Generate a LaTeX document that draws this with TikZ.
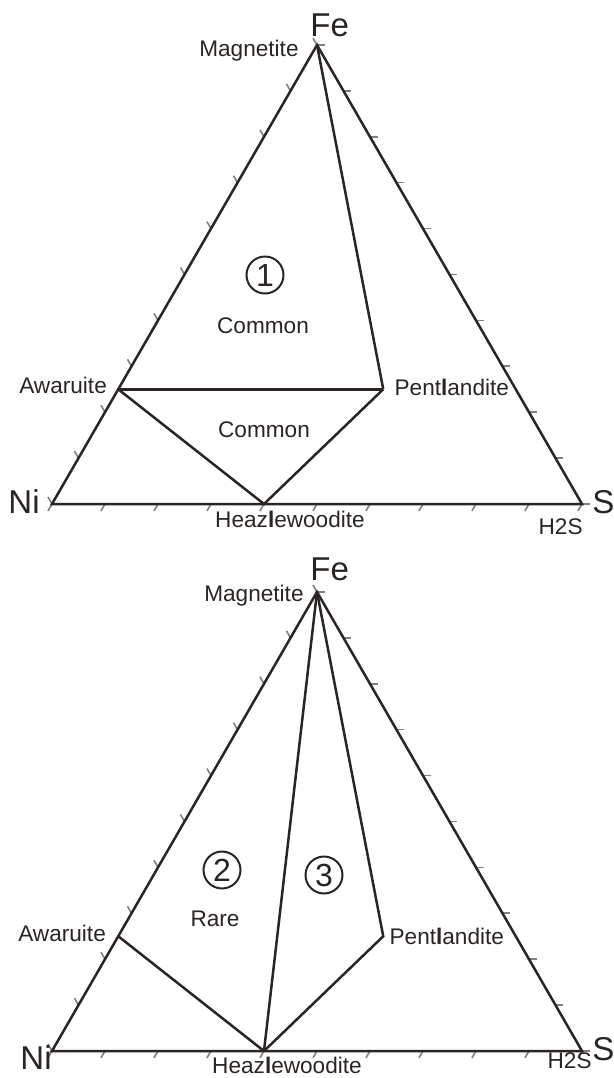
\documentclass[tikz,border=0pt]{standalone}
\usepackage{fontspec}
\setmainfont{Liberation Sans}
\usetikzlibrary{positioning}
\definecolor{ink}{HTML}{2A2522}
\definecolor{tickgray}{HTML}{808080}
\tikzset{
  edge/.style={draw=ink,line width=1.25pt,line join=miter},
  tie/.style={draw=ink,line width=1.25pt},
  tickmark/.style={draw=tickgray,line width=0.8pt},
  mineral/.style={inner sep=0pt,text=ink,font=\fontsize{11.3}{13}\selectfont},
  element/.style={inner sep=0pt,text=ink,font=\fontsize{16.5}{18}\selectfont},
  field/.style={circle,draw=ink,line width=1pt,inner sep=0pt,minimum size=18.5pt,text=ink,font=\fontsize{16}{18}\selectfont}
}

\begin{document}
\begin{tikzpicture}[x=0.5pt,y=-0.5pt]
  \useasboundingbox (0,0) rectangle (614,1078);
  % upper diagram
  \coordinate (ni1) at (52,504);
  \coordinate (s1) at (582,504);
  \coordinate (fe1) at (317,45);
  \coordinate (awaruite1) at (barycentric cs:ni1=0.75,fe1=0.25);
  \coordinate (pentlandite1) at (barycentric cs:ni1=0.25,s1=0.5,fe1=0.25);
  \coordinate (heazle1) at (barycentric cs:ni1=0.6,s1=0.4);
  \foreach \i [evaluate=\i as \j using int(10-\i)] in {0,...,10} {
    \draw[tickmark] (barycentric cs:ni1=\j,s1=\i) -- ++(-4,7);
    \draw[tickmark] (barycentric cs:s1=\j,fe1=\i) -- ++(8,0);
    \draw[tickmark] (barycentric cs:ni1=\j,fe1=\i) -- ++(-4,-7);
  }
  \draw[edge] (ni1) -- (s1) -- (fe1) -- cycle;
  \draw[tie] (fe1) -- (pentlandite1);
  \draw[tie] (awaruite1) -- (pentlandite1);
  \draw[tie] (awaruite1) -- (heazle1) -- (pentlandite1);
  \node[element,anchor=base west,xshift=-3.5pt,yshift=4.5pt] (fe1lbl) at (fe1) {Fe};
  \node[element,anchor=base east,xshift=-6pt,yshift=-4.5pt] (ni1lbl) at (ni1) {Ni};
  \node[element,anchor=base west,xshift=5pt,yshift=-4.5pt] (s1lbl) at (s1) {S};
  \node[mineral,anchor=base east,xshift=-9pt,yshift=-5.5pt] (magnetite1) at (fe1) {Magnetite};
  \node[mineral,anchor=base east,xshift=-5.5pt,yshift=-2pt] (awlbl1) at (awaruite1) {Awaruite};
  \node[mineral,anchor=base west,xshift=5.5pt,yshift=-3pt] (pnlbl1) at (pentlandite1) {Pent\textbf{l}andite};
  \node[mineral,anchor=base,xshift=13pt,yshift=-11.5pt] (hzlbl1) at (heazle1) {Heaz\textbf{l}ewoodite};
  \node[mineral,anchor=base east,xshift=0.5pt,yshift=-15pt] (h2s1) at (s1) {H2S};
  \node[field] (one) at (265,275) {1};
  \node[mineral,anchor=base] (common1) at (263,333) {Common};
  \node[mineral,anchor=base] (common2) at (264,437) {Common};
  % lower diagram
  \coordinate (ni2) at (52,1051);
  \coordinate (s2) at (582,1051);
  \coordinate (fe2) at (317,592);
  \coordinate (awaruite2) at (barycentric cs:ni2=0.75,fe2=0.25);
  \coordinate (pentlandite2) at (barycentric cs:ni2=0.25,s2=0.5,fe2=0.25);
  \coordinate (heazle2) at (barycentric cs:ni2=0.6,s2=0.4);
  \foreach \i [evaluate=\i as \j using int(10-\i)] in {0,...,10} {
    \draw[tickmark] (barycentric cs:ni2=\j,s2=\i) -- ++(-4,7);
    \draw[tickmark] (barycentric cs:s2=\j,fe2=\i) -- ++(8,0);
    \draw[tickmark] (barycentric cs:ni2=\j,fe2=\i) -- ++(-4,-7);
  }
  \draw[edge] (ni2) -- (s2) -- (fe2) -- cycle;
  \draw[tie] (fe2) -- (heazle2);
  \draw[tie] (fe2) -- (pentlandite2) -- (heazle2);
  \draw[tie] (awaruite2) -- (heazle2);
  \node[element,anchor=base west,xshift=-3.5pt,yshift=6pt] (fe2lbl) at (fe2) {Fe};
  \node[element,anchor=base east,xshift=0pt,yshift=-9pt] (ni2lbl) at (ni2) {Ni};
  \node[element,anchor=base west,xshift=5pt,yshift=-4.5pt] (s2lbl) at (s2) {S};
  \node[mineral,anchor=base east,xshift=-6.5pt,yshift=-4.5pt] (magnetite2) at (fe2) {Magnetite};
  \node[mineral,anchor=base east,xshift=-6pt,yshift=-2.5pt] (awlbl2) at (awaruite2) {Awaruite};
  \node[mineral,anchor=base west,xshift=3pt,yshift=-4pt] (pnlbl2) at (pentlandite2) {Pent\textbf{l}andite};
  \node[mineral,anchor=base,xshift=11.5pt,yshift=-11pt] (hzlbl2) at (heazle2) {Heaz\textbf{l}ewoodite};
  \node[mineral,anchor=base east,xshift=5pt,yshift=-8.5pt] (h2s2) at (s2) {H2S};
  \node[field] (two) at (222,870) {2};
  \node[field] (three) at (324,875) {3};
  \node[mineral,anchor=base] (rare) at (215,926) {Rare};
\end{tikzpicture}
\end{document}
